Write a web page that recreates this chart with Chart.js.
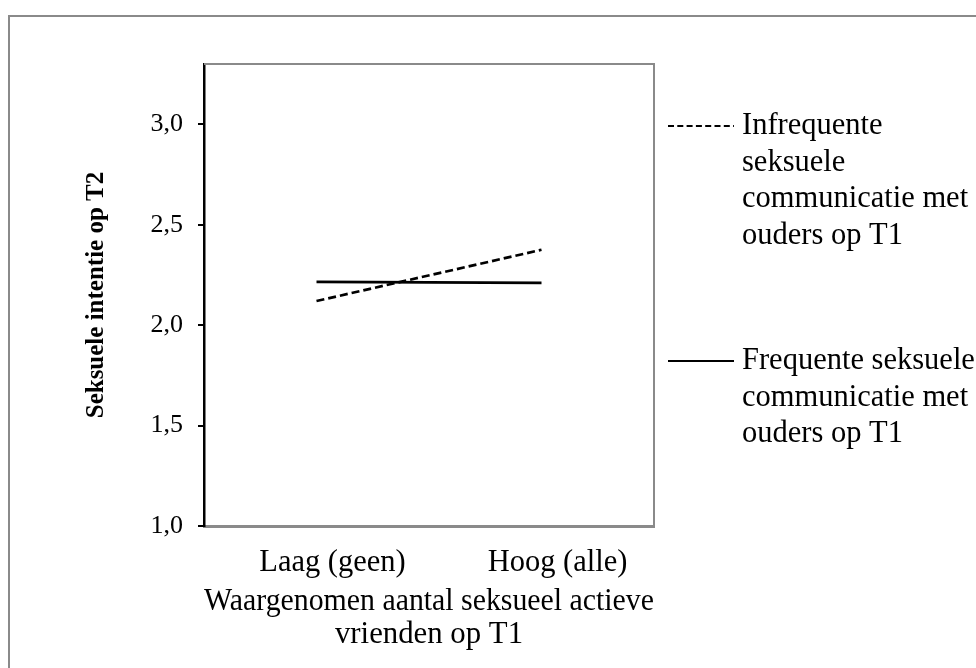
<!DOCTYPE html>
<html>
<head>
<meta charset="utf-8">
<script src="https://cdn.jsdelivr.net/npm/chart.js@4.4.0/dist/chart.umd.min.js"></script>
<style>
  html, body { margin: 0; padding: 0; background: #fff; }
  canvas { display: block; }
</style>
</head>
<body>
<canvas id="interactionChart" width="976" height="668"></canvas>
<script>
// data
var xLabels = ['Laag (geen)', 'Hoog (alle)'];
var infrequent = [2.12, 2.375];
var frequent = [2.215, 2.21];
var yTicks = [1.0, 1.5, 2.0, 2.5, 3.0];
var seriesNames = ['Infrequente seksuele communicatie met ouders op T1',
                   'Frequente seksuele communicatie met ouders op T1'];
var legendLines = [['Infrequente', 'seksuele', 'communicatie met', 'ouders op T1'],
                   ['Frequente seksuele', 'communicatie met', 'ouders op T1']];
var yTitle = 'Seksuele intentie op T2';
var xTitle = ['Waargenomen aantal seksueel actieve', 'vrienden op T1'];

var serif = "'Liberation Serif', 'Times New Roman', serif";

function toPoints(values) {
    return values.map(function (v, i) { return { x: i, y: v }; });
}

// outer frame, top/right plot border and the legend on the right
var framePlugin = {
    id: 'frame',
    afterDraw: function (chart) {
        var ctx = chart.ctx;
        var area = chart.chartArea;
        ctx.save();
        ctx.strokeStyle = '#8a8a8a';
        ctx.lineWidth = 2;
        ctx.strokeRect(9, 16, 1000, 700);

        ctx.beginPath();
        ctx.moveTo(area.left, area.top);
        ctx.lineTo(area.right, area.top);
        ctx.lineTo(area.right, area.bottom);
        ctx.stroke();

        var tops = [126, 361];
        chart.data.datasets.forEach(function (ds, i) {
            ctx.strokeStyle = ds.borderColor;
            ctx.lineWidth = 2;
            ctx.setLineDash(ds.borderDash ? [6, 3.3] : []);
            ctx.beginPath();
            ctx.moveTo(area.right + 14, tops[i]);
            ctx.lineTo(area.right + 80, tops[i]);
            ctx.stroke();
            ctx.setLineDash([]);
            ctx.fillStyle = '#000';
            ctx.font = '30.5px ' + serif;
            ctx.textBaseline = 'middle';
            ctx.textAlign = 'left';
            legendLines[i].forEach(function (line, j) {
                ctx.fillText(line, area.right + 88, tops[i] + j * 36.5);
            });
        });
        ctx.restore();
    }
};

var chart = new Chart(document.getElementById('interactionChart'), {
    type: 'line',
    data: {
        datasets: [{
            label: seriesNames[0],
            data: toPoints(infrequent),
            borderColor: '#000',
            borderWidth: 2.7,
            borderDash: [8, 4],
            pointRadius: 0,
            fill: false
        }, {
            label: seriesNames[1],
            data: toPoints(frequent),
            borderColor: '#000',
            borderWidth: 2.7,
            pointRadius: 0,
            fill: false
        }]
    },
    options: {
        responsive: false,
        animation: false,
        layout: { padding: { top: 64, right: 322, left: 0, bottom: 0 } },
        plugins: {
            legend: { display: false },
            tooltip: { enabled: false }
        },
        scales: {
            x: {
                type: 'linear',
                min: -0.5,
                max: 1.5,
                afterBuildTicks: function (scale) {
                    scale.ticks = xLabels.map(function (l, i) { return { value: i }; });
                },
                afterFit: function (scale) { scale.height = 142; },
                grid: { display: false },
                border: { display: true, color: '#8a8a8a', width: 3 },
                ticks: {
                    color: '#000',
                    font: { family: serif, size: 30.5 },
                    padding: 11,
                    maxRotation: 0,
                    autoSkip: false,
                    labelOffset: 16,
                    callback: function (v) { return xLabels[v]; }
                },
                title: {
                    display: true,
                    text: xTitle,
                    color: '#000',
                    font: { family: serif, size: 30.8, lineHeight: 1.08 },
                    padding: { top: 0, bottom: 16 }
                }
            },
            y: {
                min: 1,
                max: 3.3,
                afterBuildTicks: function (scale) {
                    scale.ticks = yTicks.map(function (v) { return { value: v }; });
                },
                afterFit: function (scale) { scale.width = 204; },
                grid: {
                    drawOnChartArea: false,
                    drawTicks: true,
                    tickLength: 6,
                    color: '#000',
                    lineWidth: 2
                },
                border: { display: true, color: '#000', width: 2.5 },
                ticks: {
                    color: '#000',
                    font: { family: serif, size: 26 },
                    padding: 15,
                    callback: function (v) { return v.toFixed(1).replace('.', ','); }
                },
                title: {
                    display: true,
                    text: yTitle,
                    color: '#000',
                    font: { family: serif, size: 25, weight: 'bold' },
                    padding: { top: 82, bottom: 0 }
                }
            }
        }
    },
    plugins: [framePlugin]
});
</script>
</body>
</html>
